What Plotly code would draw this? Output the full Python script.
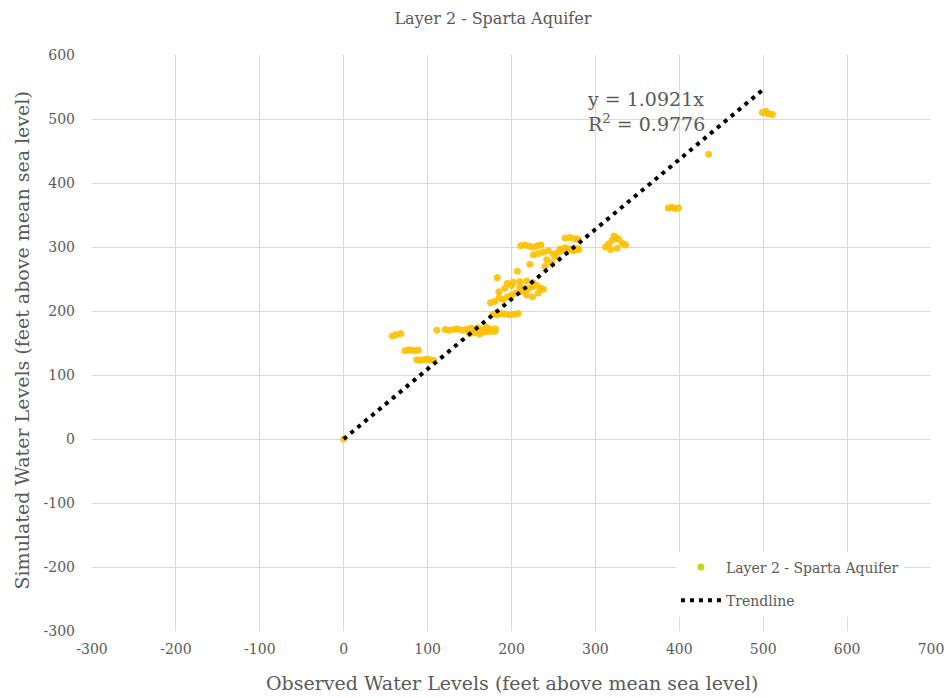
import plotly.graph_objects as go

# Observed (x) vs simulated (y) water levels, ft above mean sea level
obs_x = [
    0,
    58, 62, 68,
    73, 77, 81, 85, 89,
    87, 91, 95, 99, 103, 107,
    111,
    121, 126, 131, 136, 141, 146, 151, 156, 161, 166, 171, 176, 181,
    150, 156, 162, 168, 174, 180,
    152, 160, 170,
    178, 183, 188, 193, 198, 203, 208,
    175, 180, 185, 190, 195, 200, 205, 210, 215, 220, 225, 230, 235, 238,
    185, 192, 200, 210, 218, 225, 232,
    195, 202, 210, 218, 226,
    183,
    207, 222,
    211, 216, 221, 226, 231, 235,
    226, 232, 238, 244, 250, 256, 262, 268, 274, 280,
    242, 248, 240, 252,
    264, 270, 276, 279,
    258, 264, 270, 276, 280,
    312, 316, 320, 324, 328, 332, 336, 318, 326, 322,
    387, 391, 395, 399,
    435,
    499, 503, 507, 511, 505,
]
sim_y = [
    0,
    161, 163, 165,
    138, 139, 139, 138, 139,
    124, 123, 124, 125, 124, 123,
    170,
    171, 170, 171, 172, 170, 171, 170, 172, 171, 170, 172, 171, 172,
    165, 166, 164, 167, 168, 168,
    173, 174, 175,
    195, 194, 196, 195, 194, 195, 196,
    213, 215, 220, 218, 222, 225, 228, 230, 232, 235, 238, 240, 236, 234,
    230, 235, 240, 238, 225, 222, 228,
    243, 245, 246, 247, 244,
    252,
    262, 273,
    302, 303, 301, 300, 302, 303,
    288, 290, 292, 294, 289, 292, 295, 297, 294, 296,
    280, 275, 270, 285,
    314, 315, 313, 312,
    297, 299, 296, 298, 297,
    300, 305, 310, 315, 312, 306, 303, 296, 298, 317,
    361, 362, 360, 361,
    445,
    510, 512, 508, 507, 509,
]

slope = 1.0921
r2 = 0.9776
trend_x = [0, 500]
trend_y = [slope * v for v in trend_x]

x_tick_vals = [-300, -200, -100, 0, 100, 200, 300, 400, 500, 600, 700]
x_tick_text = ["-300", "-200", "-100", "0", "100", "200", "300", "400", "500", "600", "700"]
y_tick_vals = [-300, -200, -100, 0, 100, 200, 300, 400, 500, 600]
y_tick_text = ["-300", "-200", "-100", "0", "100", "200", "300", "400", "500", "600"]

series_name = "Layer 2 - Sparta Aquifer"
title_text = "Layer 2 - Sparta Aquifer"
x_title = "Observed Water Levels (feet above mean sea level)"
y_title = "Simulated Water Levels (feet above mean sea level)"

FONT = "DejaVu Serif"
GREY = "#595959"

fig = go.Figure()
fig.add_trace(go.Scatter(
    x=obs_x, y=sim_y, mode="markers", name=series_name, showlegend=False,
    marker=dict(color="#FFC000", size=7, opacity=0.9, line=dict(width=0)),
))
fig.add_trace(go.Scatter(
    x=trend_x, y=trend_y, mode="lines", name="Trendline", showlegend=False,
    line=dict(color="black", width=4, dash="4px,5px"),
))
# legend entries
fig.add_trace(go.Scatter(
    x=[None], y=[None], mode="markers", name=series_name, legendgroup="a",
    marker=dict(color="#B8E000", size=7),
))
fig.add_trace(go.Scatter(
    x=[None], y=[None], mode="lines", name="Trendline", legendgroup="b",
    line=dict(color="black", width=4, dash="4px,5px"),
))

fig.add_annotation(
    x=288, y=511, xref="x", yref="y", xanchor="left", yanchor="middle",
    text=f"y = {slope}x<br>R<sup>2</sup> = {r2}", showarrow=False, align="left",
    font=dict(family=FONT, size=19, color=GREY),
)
fig.add_annotation(
    x=0.5, y=-0.09, xref="paper", yref="paper", xanchor="center", yanchor="middle",
    text=x_title, showarrow=False,
    font=dict(family=FONT, size=19, color=GREY),
)
fig.add_annotation(
    x=-0.083, y=0.505, xref="paper", yref="paper", xanchor="center", yanchor="middle",
    text=y_title, showarrow=False, textangle=-90,
    font=dict(family=FONT, size=19, color=GREY),
)

fig.update_layout(
    width=947, height=698,
    paper_bgcolor="white", plot_bgcolor="white",
    margin=dict(l=92, r=16, t=55, b=67, autoexpand=False),
    title=dict(text=title_text, x=0.5205, xanchor="center", y=0.973, yanchor="middle",
               font=dict(family=FONT, size=16, color=GREY)),
    font=dict(family=FONT, color=GREY),
    legend=dict(x=0.696, y=0.138, xanchor="left", yanchor="top",
                bgcolor="white", font=dict(family=FONT, size=14, color=GREY),
                itemwidth=40, tracegroupgap=12),
    showlegend=True,
)
fig.update_xaxes(
    range=[-300, 700], tickvals=x_tick_vals, ticktext=x_tick_text,
    showgrid=True, gridcolor="#D9D9D9", gridwidth=1, zeroline=False,
    showline=False, ticks="", automargin=False, ticklabelstandoff=8,
    tickfont=dict(family=FONT, size=14, color=GREY),
)
fig.update_yaxes(
    range=[-300, 600], tickvals=y_tick_vals, ticktext=y_tick_text,
    showgrid=True, gridcolor="#D9D9D9", gridwidth=1, zeroline=False,
    showline=False, ticks="", automargin=False, ticklabelstandoff=16,
    tickfont=dict(family=FONT, size=14, color=GREY),
)

fig.write_html(
    "out.html",
    config={"displayModeBar": False},
    post_script="document.body.style.margin='0px';document.body.style.overflow='hidden';",
)
